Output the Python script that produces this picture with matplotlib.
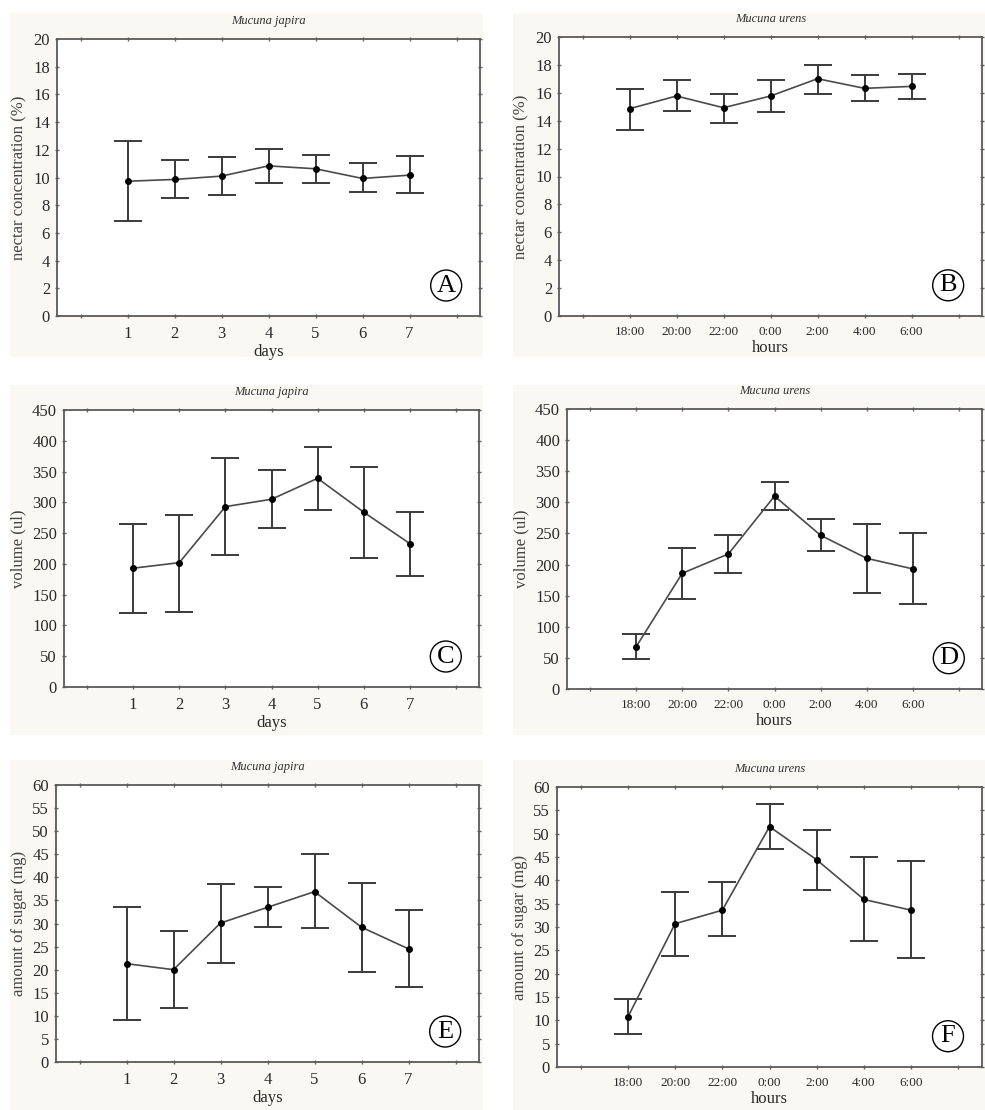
import numpy as np
import matplotlib.pyplot as plt
from matplotlib.patches import Rectangle

plt.rcParams['font.family'] = ['Liberation Serif', 'DejaVu Serif']

days = ['1', '2', '3', '4', '5', '6', '7']
hours = ['18:00', '20:00', '22:00', '0:00', '2:00', '4:00', '6:00']

# nectar concentration (%)
conc_jap = [9.73, 9.86, 10.1, 10.84, 10.63, 9.93, 10.17]
conc_jap_hi = [12.6, 11.25, 11.45, 12.07, 11.66, 11.04, 11.54]
conc_jap_lo = [6.89, 8.53, 8.72, 9.61, 9.61, 8.94, 8.87]
conc_ure = [14.86, 15.77, 14.93, 15.77, 17.01, 16.32, 16.46]
conc_ure_hi = [16.3, 16.92, 15.91, 16.92, 18.02, 17.25, 17.32]
conc_ure_lo = [13.36, 14.7, 13.81, 14.65, 15.91, 15.39, 15.58]

# volume (ul)
vol_jap = [193, 202, 293, 305, 339, 284, 233]
vol_jap_hi = [264, 279, 372, 353, 390, 357, 285]
vol_jap_lo = [120, 122, 215, 258, 287, 210, 181]
vol_ure = [68, 186, 217, 310, 247, 210, 193]
vol_ure_hi = [88, 227, 248, 333, 274, 265, 251]
vol_ure_lo = [48, 144, 186, 288, 221, 155, 136]

# amount of sugar (mg)
sug_jap = [21.3, 20.0, 30.1, 33.5, 36.9, 29.2, 24.5]
sug_jap_hi = [33.5, 28.3, 38.5, 37.8, 45.1, 38.7, 33.0]
sug_jap_lo = [9.0, 11.7, 21.4, 29.2, 29.0, 19.6, 16.2]
sug_ure = [10.7, 30.7, 33.6, 51.5, 44.4, 35.9, 33.6]
sug_ure_hi = [14.6, 37.5, 39.6, 56.4, 50.8, 45.0, 44.2]
sug_ure_lo = [7.1, 23.7, 28.0, 46.7, 38.0, 27.0, 23.3]

W, H = 985, 1110
fig = plt.figure(figsize=(W / 100, H / 100), dpi=100)
fig.patch.set_facecolor('white')

def px_rect(x0, y0, x1, y1):
    return [x0 / W, 1 - y1 / H, (x1 - x0) / W, (y1 - y0) / H]

# faint panel backgrounds
for (x0, y0, x1, y1) in [(10, 13, 483, 357), (513, 13, 985, 357),
                         (10, 385, 483, 735), (513, 385, 985, 735),
                         (10, 760, 483, 1110), (513, 760, 985, 1110)]:
    fig.patches.append(Rectangle((x0 / W, 1 - y1 / H), (x1 - x0) / W, (y1 - y0) / H,
                                 transform=fig.transFigure, facecolor='#f9f8f3',
                                 edgecolor='none', zorder=-10))

panels = [
    (px_rect(57, 39, 480, 316), conc_jap, conc_jap_hi, conc_jap_lo, days, 'days',
     'nectar concentration (%)', 'Mucuna japira', 20, 2, 'A'),
    (px_rect(559, 37, 982, 316), conc_ure, conc_ure_hi, conc_ure_lo, hours, 'hours',
     'nectar concentration (%)', 'Mucuna urens', 20, 2, 'B'),
    (px_rect(64, 410, 479, 687), vol_jap, vol_jap_hi, vol_jap_lo, days, 'days',
     'volume (ul)', 'Mucuna japira', 450, 50, 'C'),
    (px_rect(567, 409, 982, 689), vol_ure, vol_ure_hi, vol_ure_lo, hours, 'hours',
     'volume (ul)', 'Mucuna urens', 450, 50, 'D'),
    (px_rect(56, 785, 479, 1062), sug_jap, sug_jap_hi, sug_jap_lo, days, 'days',
     'amount of sugar (mg)', 'Mucuna japira', 60, 5, 'E'),
    (px_rect(557, 787, 982, 1067), sug_ure, sug_ure_hi, sug_ure_lo, hours, 'hours',
     'amount of sugar (mg)', 'Mucuna urens', 60, 5, 'F'),
]

txt = '#2a2a2a'
for rect, m, hi, lo, labels, xlab, ylab, title, ymax, ystep, letter in panels:
    ax = fig.add_axes(rect)
    ax.set_facecolor('white')
    x = np.arange(1, 8)
    m = np.array(m)
    err = [m - np.array(lo), np.array(hi) - m]
    ax.errorbar(x, m, yerr=err, color='#4a4a4a', lw=1.2, elinewidth=1.4,
                ecolor='#3a3a3a', capsize=10, capthick=1.4, marker='o', ms=4,
                mfc='black', mec='black', zorder=3)
    ax.set_xlim(-0.5, 8.5)
    ax.set_ylim(0, ymax)
    ax.set_yticks(np.arange(0, ymax + ystep / 2, ystep))
    ax.set_xticks(np.arange(0, 9))
    ax.set_xticklabels([''] + labels + [''])
    ax.tick_params(direction='inout', length=3, width=1, colors='#666666',
                   labelcolor=txt, top=True, right=True, labelsize=12)
    ax.tick_params(axis='x', labelsize=9.5 if xlab == 'hours' else 12, pad=6)
    for s in ax.spines.values():
        s.set_color('#5a5a5a')
        s.set_linewidth(1.3)
    ax.set_xlabel(xlab, fontsize=12, color=txt, labelpad=1)
    ax.set_ylabel(ylab, fontsize=12, color='#444444', labelpad=4)
    ax.set_title(title, fontsize=9, style='italic', color='#333333', pad=11)
    ax.text(0.92, 0.11, letter, transform=ax.transAxes, fontsize=19,
            ha='center', va='center', color='black',
            bbox=dict(boxstyle='circle,pad=0.17', fc='none', ec='black', lw=1))

fig.savefig('out.png', dpi=100)
